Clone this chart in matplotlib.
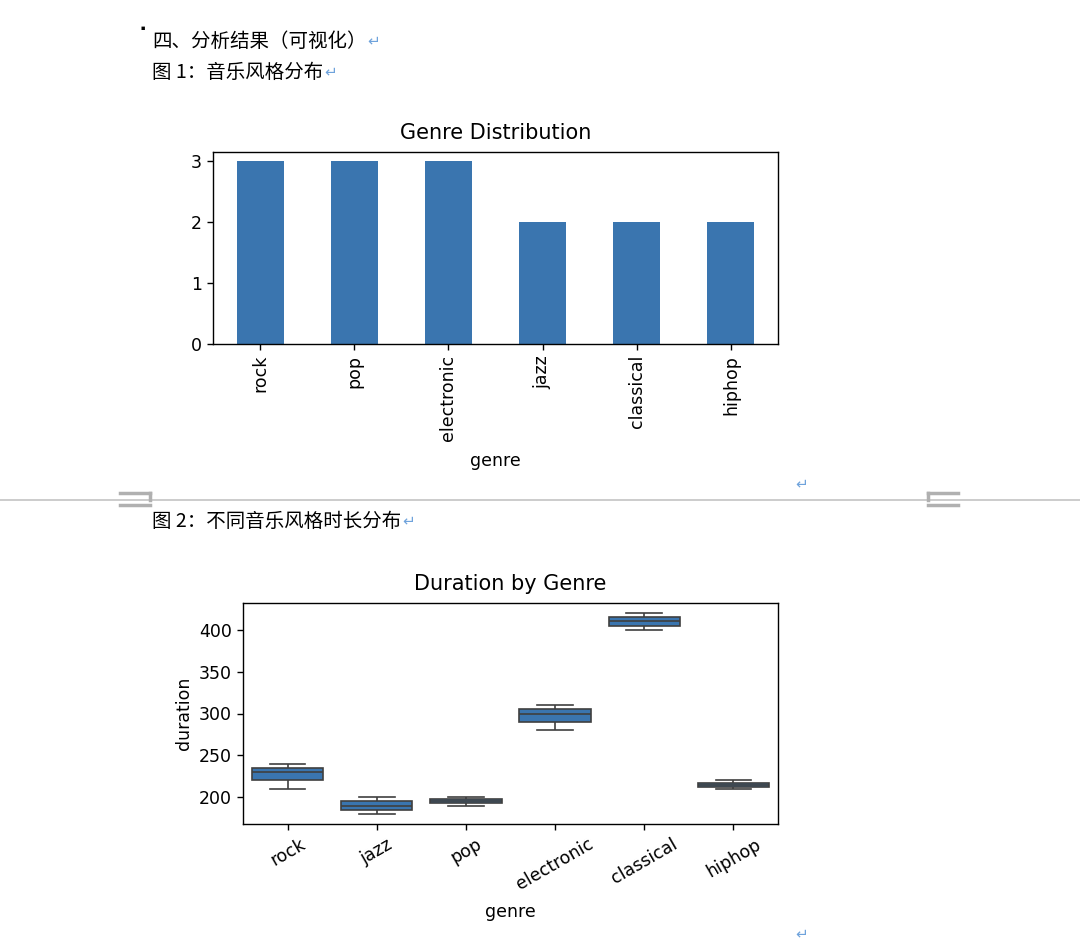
import numpy as np
import pandas as pd
import matplotlib
matplotlib.use("Agg")
import matplotlib.pyplot as plt
import seaborn as sns

# data
genres = ["rock", "jazz", "pop", "electronic", "classical", "hiphop",
          "rock", "pop", "electronic", "jazz", "classical", "hiphop",
          "rock", "pop", "electronic"]
durations = [210, 180, 190, 280, 400, 210,
             230, 195, 300, 200, 420, 220,
             240, 200, 310]

df = pd.DataFrame({"genre": genres, "duration": durations})
counts = df["genre"].value_counts()

bar_color = "#3a75af"
cjk = ["Noto Sans CJK SC", "DejaVu Sans"]
arrow_c = "#6fa3dc"

plt.rcParams["axes.linewidth"] = 1.0
plt.rcParams["xtick.major.width"] = 1.0
plt.rcParams["ytick.major.width"] = 1.0
plt.rcParams["xtick.major.size"] = 4.5
plt.rcParams["ytick.major.size"] = 4.5

fig = plt.figure(figsize=(10.8, 9.44), dpi=100)


def doc_line(x, y, s, size=14):
    # text line followed by the blue paragraph mark
    t = fig.text(x / 1080, 1 - y / 944, s, fontsize=size, family=cjk, va="center")
    fig.canvas.draw()
    bb = t.get_window_extent()
    fig.text(bb.x1 / 1080 + 0.001, 1 - y / 944, "\u21b5", fontsize=11, family=cjk,
             va="center", color=arrow_c)


fig.text(143 / 1080, 1 - 29 / 944, "\u25aa", fontsize=9, family=cjk, ha="center", va="center")
doc_line(152, 41, "四、分析结果（可视化）")
doc_line(152, 72, "图 1：音乐风格分布")
doc_line(152, 521, "图 2：不同音乐风格时长分布")
fig.text(795 / 1080, 1 - 484 / 944, "\u21b5", fontsize=11, family=cjk, va="center", color=arrow_c)
fig.text(795 / 1080, 1 - 934 / 944, "\u21b5", fontsize=11, family=cjk, va="center", color=arrow_c)

# page break line and margin marks
fig.add_artist(plt.Line2D([0, 1], [1 - 500 / 944] * 2, color="#c4c4c4", lw=1.2))
for x0, x1, xv in [(120 / 1080, 150 / 1080, 150 / 1080), (928 / 1080, 958 / 1080, 928 / 1080)]:
    fig.add_artist(plt.Line2D([x0, x1], [1 - 493 / 944] * 2, color="#b0b0b0", lw=2.5))
    fig.add_artist(plt.Line2D([x0, x1], [1 - 505 / 944] * 2, color="#b0b0b0", lw=2.5))
    fig.add_artist(plt.Line2D([xv, xv], [1 - 493 / 944, 1 - 500 / 944], color="#b0b0b0", lw=2.5))

# chart 1: genre counts
ax1 = fig.add_axes([213 / 1080, 1 - 344 / 944, 565 / 1080, 192 / 944])
ax1.bar(range(len(counts)), counts.values, width=0.5, color=bar_color)
ax1.set_xlim(-0.5, len(counts) - 0.5)
ax1.set_xticks(range(len(counts)))
ax1.set_xticklabels(counts.index, rotation=90, fontsize=12.5)
ax1.set_yticks([0, 1, 2, 3])
ax1.tick_params(axis="y", labelsize=12.5)
ax1.set_title("Genre Distribution", fontsize=15, pad=9)
ax1.set_xlabel("genre", fontsize=12.5, labelpad=8)

# chart 2: duration by genre
ax2 = fig.add_axes([243 / 1080, 1 - 824 / 944, 535 / 1080, 221 / 944])
sns.boxplot(data=df, x="genre", y="duration", ax=ax2, color=bar_color, saturation=1,
            linecolor="#3f3f3f", linewidth=1.2)
ax2.set_yticks([200, 250, 300, 350, 400])
ax2.tick_params(axis="y", labelsize=12.5)
ax2.tick_params(axis="x", labelsize=12.5, labelrotation=30)
ax2.set_title("Duration by Genre", fontsize=15, pad=9)
ax2.set_xlabel("genre", fontsize=12.5, labelpad=7)
ax2.set_ylabel("duration", fontsize=12.5)

fig.savefig("out.png", dpi=100)
